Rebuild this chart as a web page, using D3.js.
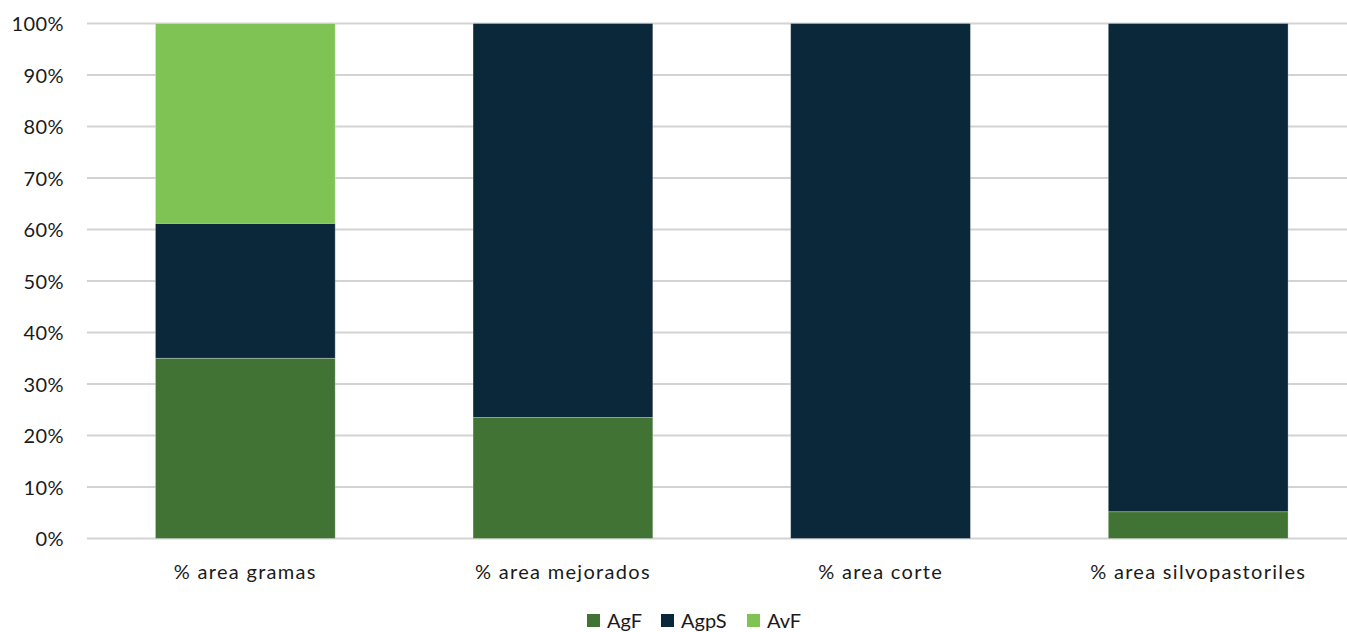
<!DOCTYPE html>
<html>
<head>
<meta charset="utf-8">
<script src="https://cdn.jsdelivr.net/npm/d3@7"></script>
<style>
  html, body { margin: 0; padding: 0; background: #fff; overflow: hidden; }
  svg { display: block; }
  text { font-family: Lato, "Open Sans", "Liberation Sans", sans-serif; fill: #1a1a1a; }
</style>
</head>
<body>
<svg id="chart" width="1347" height="632"></svg>
<script>
const categories = ["% area gramas", "% area mejorados", "% area corte", "% area silvopastoriles"];
const seriesNames = ["AgF", "AgpS", "AvF"];
const AgF  = [35.0, 23.5, 0, 5.2];
const AgpS = [26.2, 76.5, 100, 94.8];
const AvF  = [38.8, 0, 0, 0];
const yTicks = [0, 10, 20, 30, 40, 50, 60, 70, 80, 90, 100];
const colors = ["#417334", "#0b283a", "#80c355"];

const svg = d3.select("#chart");
const W = 1347, H = 632;

const x = d3.scaleBand().domain(categories).range([86.5, 1357]).paddingInner(0.434).paddingOuter(0.217);
const y = d3.scaleLinear().domain([0, 100]).range([538.5, 23.5]);

// gridlines
svg.append("g").selectAll("line").data(yTicks).join("line")
  .attr("x1", 87).attr("x2", W)
  .attr("y1", d => y(d)).attr("y2", d => y(d))
  .attr("stroke", "#d3d3d3").attr("stroke-width", 2);

// y axis labels
const yAxis = d3.axisLeft(y).tickValues(yTicks).tickFormat(d => d + "%").tickSize(0).tickPadding(0);
const gy = svg.append("g").attr("transform", "translate(64,0)").call(yAxis);
gy.select(".domain").remove();
gy.selectAll("text").attr("font-size", 20).attr("font-family", "Lato, sans-serif")
  .attr("letter-spacing", 0.4).attr("fill", "#1a1a1a").attr("dy", "0.36em");

// stacked data
const table = categories.map((c, i) => ({ cat: c, AgF: AgF[i], AgpS: AgpS[i], AvF: AvF[i] }));
const stack = d3.stack().keys(seriesNames)(table);

const bw = x.bandwidth();
svg.append("g").selectAll("g").data(stack).join("g")
  .attr("fill", (d, i) => colors[i])
  .selectAll("rect").data(d => d.filter(p => p[1] - p[0] > 0)).join("rect")
  .attr("x", d => x(d.data.cat))
  .attr("width", bw)
  .attr("y", d => y(d[1]))
  .attr("height", d => y(d[0]) - y(d[1]))
  .attr("stroke", "rgba(255,255,255,0.35)").attr("stroke-width", 0.8);

// x axis labels
const xAxis = d3.axisBottom(x).tickSize(0).tickPadding(0);
const gx = svg.append("g").attr("transform", "translate(0,565)").call(xAxis);
gx.select(".domain").remove();
gx.selectAll("text").attr("font-size", 20).attr("font-family", "Lato, sans-serif")
  .attr("letter-spacing", 1.3).attr("fill", "#1a1a1a").attr("dy", "0.71em");

// legend
const legendX = [587, 661, 747];
const lg = svg.append("g").selectAll("g").data(seriesNames).join("g")
  .attr("transform", (d, i) => `translate(${legendX[i]},614)`);
lg.append("rect").attr("width", 13).attr("height", 13).attr("fill", (d, i) => colors[i]);
lg.append("text").attr("x", 20).attr("y", 13.5).attr("font-size", 20).text(d => d);
</script>
</body>
</html>
